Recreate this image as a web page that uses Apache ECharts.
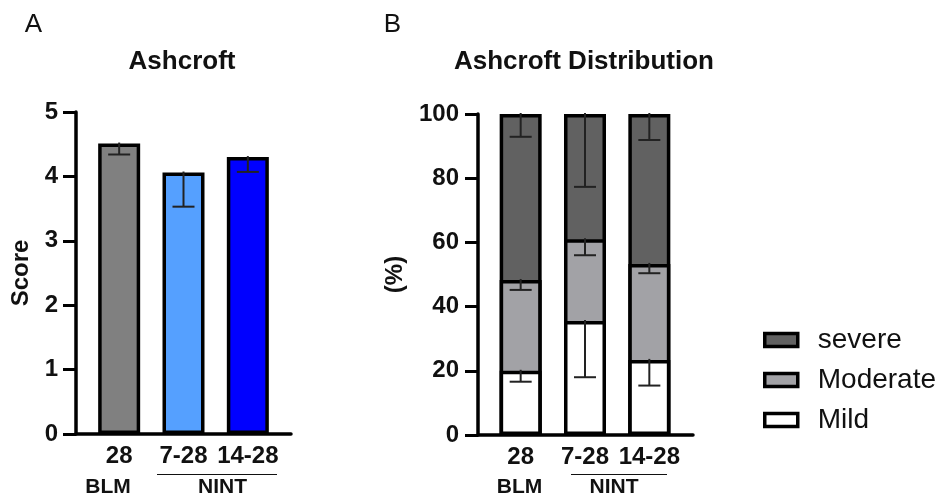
<!DOCTYPE html>
<html>
<head>
<meta charset="utf-8">
<script src="https://cdn.jsdelivr.net/npm/echarts@6/dist/echarts.min.js"></script>
<style>html,body{margin:0;padding:0;background:#fff;}#c{width:939px;height:497px;}</style>
</head>
<body>
<div id="c"></div>
<script>
// ---- data ----
const categories = ['28', '7-28', '14-28'];
const scoreMean = [4.51, 4.06, 4.3];
const scoreLow = [4.34, 3.53, 4.07];
const mild = [20, 35.5, 23.4];
const moderate = [28.3, 25.5, 29.9];
const severe = [51.7, 39, 46.7];
const mildErr = [3.4, 17.5, 8];
const moderateErr = [3.1, 5, 2.9];
const severeErr = [7.1, 22.7, 8.1];

// ---- styles ----
const colorsA = ['#808080', '#55A0FF', '#0000FF'];
const FONT = 'Liberation Sans, Arial, sans-serif';
const chart = echarts.init(document.getElementById('c'));

function errRender(params, api) {
  const x = api.value(0), top = api.value(1), low = api.value(2);
  const p1 = api.coord([x, top]);
  const p2 = api.coord([x, low]);
  const st = { stroke: '#222', lineWidth: 2 };
  return {
    type: 'group',
    children: [
      { type: 'line', shape: { x1: p1[0], y1: p1[1] - 1, x2: p2[0], y2: p2[1] }, style: st },
      { type: 'line', shape: { x1: p2[0] - 11, y1: p2[1], x2: p2[0] + 11, y2: p2[1] }, style: st }
    ]
  };
}

const frameX = gi => ({
  type: 'value', gridIndex: gi, min: 0, max: 1,
  splitLine: { show: false }, axisTick: { show: false }, axisLabel: { show: false },
  axisLine: { onZero: false, lineStyle: { color: '#000', width: 3.5 } }
});
const catX = gi => ({
  type: 'category', gridIndex: gi, data: categories,
  axisLine: { show: false }, axisTick: { show: false },
  axisLabel: { interval: 0, fontFamily: FONT, fontWeight: 'bold', fontSize: 24, color: '#111', margin: 10 }
});
const frameY = (gi, max, interval, name, gap, margin) => ({
  type: 'value', gridIndex: gi, min: 0, max: max, interval: interval,
  splitLine: { show: false },
  axisLine: { show: true, onZero: false, lineStyle: { color: '#000', width: 3.5 } },
  axisTick: { show: true, length: 13, lineStyle: { color: '#000', width: 3 } },
  axisLabel: { fontFamily: FONT, fontWeight: 'bold', fontSize: 24, color: '#111', margin: margin },
  name: name, nameLocation: 'middle', nameRotate: 90, nameGap: gap, nameMoveOverlap: false,
  nameTextStyle: { fontFamily: FONT, fontWeight: 'bold', fontSize: 24, color: '#111' }
});
const hiddenY = (gi, max) => ({ type: 'value', gridIndex: gi, min: 0, max: max, show: false, splitLine: { show: false } });

// cumulative tops of each stacked segment (drawn as overlapping bars from 0)
const cumMild = mild.slice();
const cumMod = mild.map((v, i) => v + moderate[i]);
const cumSev = cumMod.map((v, i) => v + severe[i]);

const segStyle = { borderColor: '#000', borderWidth: 3.5 };

const option = {
  animation: false,
  backgroundColor: '#fff',
  grid: [
    { left: 76, top: 112, width: 215, height: 322 },
    { left: 87, top: 112, width: 193, height: 322 },
    { left: 478, top: 114, width: 215, height: 321 },
    { left: 488.5, top: 114, width: 193, height: 321 }
  ],
  xAxis: [frameX(0), catX(1), frameX(2), catX(3)],
  yAxis: [
    frameY(0, 5, 1, 'Score', 43, 18), hiddenY(1, 5),
    frameY(2, 100, 20, '(%)', 71, 19), hiddenY(3, 100)
  ],
  legend: {
    data: ['severe', 'Moderate', 'Mild'],
    orient: 'vertical', left: 763, top: 326, padding: 0,
    itemWidth: 33, itemHeight: 13, itemGap: 12, icon: 'rect',
    itemStyle: { borderColor: '#000', borderWidth: 3.5 },
    textStyle: { fontFamily: FONT, fontSize: 28, color: '#111', padding: [0, 0, 0, 15], lineHeight: 28 },
    selectedMode: false
  },
  series: [
    {
      type: 'bar', xAxisIndex: 1, yAxisIndex: 1, barWidth: 42,
      itemStyle: { borderColor: '#000', borderWidth: 3.5 },
      data: scoreMean.map((v, i) => ({ value: v, itemStyle: { color: colorsA[i] } }))
    },
    {
      type: 'custom', xAxisIndex: 1, yAxisIndex: 1, renderItem: errRender, z: 5,
      data: scoreMean.map((v, i) => [i, v, scoreLow[i]])
    },
    {
      name: 'severe', type: 'bar', xAxisIndex: 3, yAxisIndex: 3, barWidth: 42, barGap: '-100%',
      itemStyle: Object.assign({ color: '#616161' }, segStyle),
      data: cumSev
    },
    {
      name: 'Moderate', type: 'bar', xAxisIndex: 3, yAxisIndex: 3, barWidth: 42, barGap: '-100%',
      itemStyle: Object.assign({ color: '#A2A2A6' }, segStyle),
      data: cumMod
    },
    {
      name: 'Mild', type: 'bar', xAxisIndex: 3, yAxisIndex: 3, barWidth: 42, barGap: '-100%',
      itemStyle: Object.assign({ color: '#ffffff' }, segStyle),
      data: cumMild
    },
    {
      type: 'custom', xAxisIndex: 3, yAxisIndex: 3, renderItem: errRender, z: 5,
      data: [].concat(
        cumMild.map((v, i) => [i, v, v - mildErr[i]]),
        cumMod.map((v, i) => [i, v, v - moderateErr[i]]),
        cumSev.map((v, i) => [i, v, v - severeErr[i]])
      )
    }
  ],
  graphic: [
    { type: 'text', x: 33.5, y: 25, style: { text: 'A', fontFamily: FONT, fontSize: 26, fill: '#111', textAlign: 'center', textVerticalAlign: 'middle' } },
    { type: 'text', x: 392.5, y: 25, style: { text: 'B', fontFamily: FONT, fontSize: 26, fill: '#111', textAlign: 'center', textVerticalAlign: 'middle' } },
    { type: 'text', x: 182, y: 62, style: { text: 'Ashcroft', fontFamily: FONT, fontWeight: 'bold', fontSize: 26, fill: '#111', textAlign: 'center', textVerticalAlign: 'middle' } },
    { type: 'text', x: 584, y: 62, style: { text: 'Ashcroft Distribution', fontFamily: FONT, fontWeight: 'bold', fontSize: 26, fill: '#111', textAlign: 'center', textVerticalAlign: 'middle' } },
    { type: 'text', x: 108, y: 487, style: { text: 'BLM', fontFamily: FONT, fontWeight: 'bold', fontSize: 21, fill: '#111', textAlign: 'center', textVerticalAlign: 'middle' } },
    { type: 'text', x: 222.5, y: 487, style: { text: 'NINT', fontFamily: FONT, fontWeight: 'bold', fontSize: 21, fill: '#111', textAlign: 'center', textVerticalAlign: 'middle' } },
    { type: 'line', shape: { x1: 157, y1: 474.5, x2: 277, y2: 474.5 }, style: { stroke: '#111', lineWidth: 1.2 } },
    { type: 'text', x: 519.5, y: 487, style: { text: 'BLM', fontFamily: FONT, fontWeight: 'bold', fontSize: 21, fill: '#111', textAlign: 'center', textVerticalAlign: 'middle' } },
    { type: 'text', x: 614, y: 487, style: { text: 'NINT', fontFamily: FONT, fontWeight: 'bold', fontSize: 21, fill: '#111', textAlign: 'center', textVerticalAlign: 'middle' } },
    { type: 'line', shape: { x1: 571, y1: 474.5, x2: 667, y2: 474.5 }, style: { stroke: '#111', lineWidth: 1.2 } }
  ]
};
chart.setOption(option);
</script>
</body>
</html>
